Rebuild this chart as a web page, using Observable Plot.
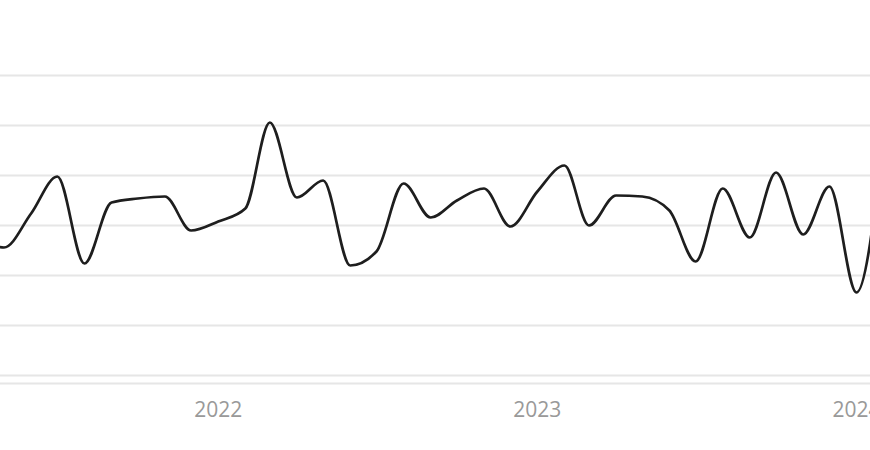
<!DOCTYPE html>
<html>
<head>
<meta charset="utf-8">
<script src="https://cdn.jsdelivr.net/npm/d3@7"></script>
<script src="https://cdn.jsdelivr.net/npm/@observablehq/plot@0.6"></script>
<style>
  html, body { margin: 0; padding: 0; background: #fff; }
  #chart svg { display: block; }
</style>
</head>
<body>
<div id="chart"></div>
<script>
const months = [
  "2021-04","2021-05","2021-06","2021-07","2021-08","2021-09","2021-10","2021-11","2021-12",
  "2022-01","2022-02","2022-03","2022-04","2022-05","2022-06","2022-07","2022-08","2022-09","2022-10","2022-11","2022-12",
  "2023-01","2023-02","2023-03","2023-04","2023-05","2023-06","2023-07","2023-08","2023-09","2023-10","2023-11","2023-12",
  "2024-01","2024-02"
];
const values = [
  27, 25.6, 32.4, 39.8, 22.4, 34.6, 35.4, 35.8, 29,
  30.8, 33.4, 50.6, 35.6, 39, 22, 24.8, 38.4, 31.6, 35, 37.4, 29.8,
  36.8, 42, 30, 36, 35.8, 33, 22.8, 37.4, 27.6, 40.6, 28.2, 37.8,
  16.6, 48
];
const gridValues = [0, 10, 20, 30, 40, 50, 60];
const yearTicks = ["2022-01-01", "2023-01-01", "2024-01-01"];
const baselineValue = -1.6;

const data = months.map((m, i) => ({date: new Date(m + "-01T00:00:00"), value: values[i]}));

const chart = Plot.plot({
  width: 870,
  height: 450,
  marginTop: 75,
  marginBottom: 75,
  marginLeft: 0,
  marginRight: 0,
  style: {fontFamily: "'Open Sans', sans-serif", background: "#fff"},
  x: {type: "utc", domain: [new Date("2021-04-27T00:00:00"), new Date("2024-01-17T00:00:00")]},
  y: {domain: [0, 60]},
  marks: [
    Plot.ruleY(gridValues, {stroke: "#e6e6e6", strokeWidth: 1.8}),
    Plot.ruleY([baselineValue], {stroke: "#e6e6e6", strokeWidth: 1.8}),
    Plot.axisX(yearTicks.map(d => new Date(d + "T00:00:00")), {
      tickSize: 0, tickPadding: 27, fontSize: 21, fill: "#999",
      tickFormat: d => d3.timeFormat("%Y")(d), label: null
    }),
    Plot.axisY({ticks: [], label: null, tickSize: 0}),
    Plot.line(data, {x: "date", y: "value", curve: "monotone-x", stroke: "#1e1e1e", strokeWidth: 2.7, clip: true})
  ]
});
document.getElementById("chart").append(chart);
</script>
</body>
</html>
